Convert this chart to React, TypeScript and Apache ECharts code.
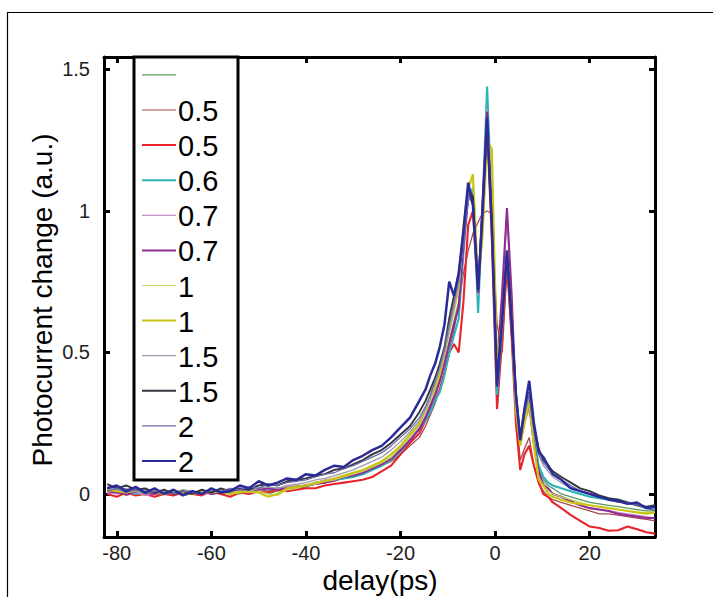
import React, { useEffect, useRef } from "react";
import * as echarts from "echarts";

// delay grid (ps)
const delays: number[] = [
  -82, -80, -78, -76, -74, -72, -70, -68, -66, -64,
  -62, -60, -58, -56, -54, -52, -50, -48, -46, -44,
  -42, -40, -38, -36, -34, -32, -30, -28, -26, -24,
  -22, -20, -18, -16,
  -14.7, -13.7, -12.7, -11.7, -10.7, -9.7, -8.7, -7.7, -6.7, -5.7,
  -4.7, -3.6, -2.7, -1.7, -0.7, 0.4, 1.5, 2.5, 3.5, 4.4,
  5.3, 6.2, 7.2, 8.2, 9.2, 10.2, 11.2, 12.2,
  14, 16, 18, 20, 22, 24, 26, 28, 30, 32, 33.8,
];

const legendLabels: string[] = ["", "0.5", "0.5", "0.6", "0.7", "0.7", "1", "1", "1.5", "1.5", "2", "2"];
const xTicks: number[] = [-80, -60, -40, -20, 0, 20];
const yTicks: number[] = [0, 0.5, 1, 1.5];

const sGreen: number[] = [
  0.02, 0.01, 0.015, 0.005, 0.01, 0.0, 0.01, 0.005, 0.01, 0.005,
  0.01, 0.005, 0.0, 0.01, 0.005, 0.015, 0.01, 0.0, 0.01, 0.02,
  0.02, 0.025, 0.035, 0.04, 0.05, 0.055, 0.065, 0.075, 0.09, 0.105,
  0.125, 0.155, 0.19, 0.23,
  0.27, 0.31, 0.35, 0.4, 0.46, 0.54, 0.61, 0.68, 0.88, 1.04,
  1.04, 0.7, 0.98, 1.32, 0.97, 0.38, 0.62, 0.85, 0.6, 0.3,
  0.18, 0.26, 0.32, 0.19, 0.09, 0.05, 0.03, 0.02,
  0.0, -0.01, -0.02, -0.03, -0.035, -0.04, -0.045, -0.05, -0.055, -0.06, -0.06,
];
const sBrown05: number[] = [
  0.0, 0.01, -0.005, 0.005, 0.0, 0.01, 0.0, 0.005, -0.005, 0.0,
  0.01, 0.0, 0.005, 0.01, 0.0, 0.01, 0.015, 0.01, 0.02, 0.025,
  0.02, 0.03, 0.035, 0.04, 0.045, 0.055, 0.06, 0.07, 0.085, 0.1,
  0.115, 0.14, 0.17, 0.2,
  0.24, 0.28, 0.32, 0.37, 0.43, 0.5, 0.58, 0.67, 0.78, 0.86,
  0.92, 0.96, 0.99, 1.0, 0.99, 0.6, 0.5, 0.8, 0.55, 0.3,
  0.12, 0.16, 0.2, 0.1, 0.04, 0.01, -0.01, -0.02,
  -0.03, -0.04, -0.05, -0.06, -0.07, -0.07, -0.075, -0.08, -0.085, -0.09, -0.095,
];
const sRed05: number[] = [
  0.0, -0.01, 0.005, -0.005, 0.0, -0.01, 0.0, -0.005, 0.005, 0.0,
  -0.005, 0.01, 0.0, -0.01, 0.005, 0.0, 0.01, 0.005, 0.015, 0.01,
  0.015, 0.02, 0.02, 0.03, 0.035, 0.04, 0.045, 0.05, 0.06, 0.08,
  0.1, 0.14, 0.18, 0.215,
  0.26, 0.29, 0.33, 0.37, 0.43, 0.5, 0.53, 0.5, 0.68, 0.95,
  1.0, 0.7, 0.95, 1.3, 0.9, 0.3, 0.55, 0.82, 0.55, 0.25,
  0.085, 0.14, 0.17, 0.1, 0.04, 0.0, -0.01, -0.03,
  -0.05, -0.075, -0.095, -0.115, -0.12, -0.13, -0.128, -0.115, -0.125, -0.135, -0.14,
];
const sCyan06: number[] = [
  0.015, 0.005, 0.01, 0.0, 0.01, 0.005, 0.0, 0.01, 0.005, 0.0,
  0.01, 0.005, 0.015, 0.01, 0.005, 0.01, 0.02, 0.015, 0.02, 0.02,
  0.025, 0.03, 0.04, 0.045, 0.05, 0.055, 0.06, 0.07, 0.085, 0.1,
  0.12, 0.15, 0.19, 0.23,
  0.26, 0.29, 0.33, 0.36, 0.42, 0.5, 0.56, 0.62, 0.85, 1.05,
  1.08, 0.64, 1.0, 1.44, 1.0, 0.35, 0.6, 0.86, 0.6, 0.3,
  0.18, 0.27, 0.33, 0.2, 0.1, 0.06, 0.04, 0.03,
  0.02, 0.01, 0.0, -0.01, -0.015, -0.02, -0.02, -0.03, -0.04, -0.05, -0.055,
];
const sViolet07: number[] = [
  0.005, 0.0, 0.01, 0.005, -0.005, 0.0, 0.01, 0.0, 0.005, 0.01,
  0.0, 0.005, 0.01, 0.0, 0.01, 0.015, 0.01, 0.02, 0.015, 0.025,
  0.03, 0.03, 0.04, 0.05, 0.055, 0.06, 0.07, 0.08, 0.095, 0.11,
  0.13, 0.16, 0.2, 0.24,
  0.28, 0.32, 0.36, 0.41, 0.47, 0.54, 0.6, 0.66, 0.86, 1.04,
  1.05, 0.7, 1.0, 1.36, 0.98, 0.42, 0.7, 0.98, 0.68, 0.3,
  0.17, 0.25, 0.3, 0.17, 0.08, 0.04, 0.02, 0.0,
  -0.01, -0.03, -0.04, -0.05, -0.055, -0.06, -0.065, -0.07, -0.075, -0.08, -0.085,
];
const sPurple07: number[] = [
  0.01, 0.005, 0.0, 0.01, 0.005, 0.0, 0.005, 0.01, 0.0, 0.005,
  0.01, 0.0, 0.005, 0.015, 0.01, 0.005, 0.015, 0.02, 0.015, 0.02,
  0.025, 0.03, 0.035, 0.04, 0.05, 0.06, 0.065, 0.075, 0.09, 0.105,
  0.125, 0.155, 0.19, 0.23,
  0.27, 0.31, 0.35, 0.4, 0.46, 0.53, 0.6, 0.66, 0.88, 1.05,
  1.06, 0.71, 1.02, 1.35, 0.98, 0.44, 0.72, 1.01, 0.7, 0.32,
  0.18, 0.26, 0.32, 0.18, 0.08, 0.03, 0.02, 0.0,
  -0.01, -0.025, -0.04, -0.05, -0.055, -0.06, -0.07, -0.075, -0.08, -0.085, -0.085,
];
const sLime1: number[] = [
  0.01, 0.015, 0.005, 0.01, 0.0, 0.01, 0.005, 0.015, 0.005, 0.01,
  0.005, 0.015, 0.01, 0.005, 0.01, 0.005, 0.01, 0.0, -0.005, 0.015,
  0.02, 0.03, 0.035, 0.045, 0.05, 0.06, 0.07, 0.08, 0.095, 0.11,
  0.13, 0.165, 0.2, 0.245,
  0.29, 0.33, 0.37, 0.42, 0.49, 0.57, 0.64, 0.72, 0.92, 1.1,
  1.1, 0.73, 1.0, 1.3, 1.15, 0.42, 0.65, 0.85, 0.62, 0.3,
  0.17, 0.25, 0.32, 0.18, 0.06, 0.03, 0.01, 0.0,
  -0.01, -0.02, -0.03, -0.04, -0.045, -0.05, -0.055, -0.06, -0.065, -0.065, -0.06,
];
const sYellow1: number[] = [
  0.015, 0.01, 0.005, 0.015, 0.005, 0.01, 0.0, 0.01, 0.005, 0.0,
  0.01, 0.005, 0.01, 0.0, 0.005, 0.01, 0.005, -0.01, 0.0, 0.02,
  0.025, 0.03, 0.04, 0.045, 0.055, 0.065, 0.075, 0.085, 0.1, 0.115,
  0.14, 0.17, 0.21, 0.25,
  0.3, 0.34, 0.38, 0.43, 0.5, 0.58, 0.66, 0.74, 0.95, 1.08,
  1.13, 0.75, 0.9, 1.25, 1.22, 0.45, 0.62, 0.86, 0.62, 0.3,
  0.17, 0.25, 0.33, 0.17, 0.05, 0.03, 0.0, -0.01,
  -0.02, -0.03, -0.035, -0.04, -0.045, -0.05, -0.055, -0.06, -0.065, -0.07, -0.065,
];
const sGray15: number[] = [
  0.025, 0.015, 0.02, 0.01, 0.015, 0.005, 0.01, 0.005, 0.015, 0.01,
  0.005, 0.01, 0.015, 0.005, 0.02, 0.01, 0.02, 0.025, 0.02, 0.03,
  0.035, 0.04, 0.05, 0.055, 0.065, 0.075, 0.085, 0.1, 0.115, 0.13,
  0.155, 0.185, 0.22, 0.26,
  0.3, 0.34, 0.39, 0.44, 0.5, 0.58, 0.66, 0.74, 0.9, 1.05,
  1.04, 0.73, 0.98, 1.3, 0.96, 0.4, 0.62, 0.84, 0.6, 0.34,
  0.19, 0.28, 0.34, 0.22, 0.14, 0.1, 0.08, 0.06,
  0.04, 0.02, 0.01, 0.0, -0.01, -0.02, -0.025, -0.03, -0.04, -0.045, -0.05,
];
const sDark15: number[] = [
  0.035, 0.02, 0.03, 0.015, 0.02, 0.005, 0.015, 0.0, 0.01, 0.0,
  0.015, 0.005, 0.02, 0.01, 0.02, 0.015, 0.03, 0.035, 0.03, 0.045,
  0.05, 0.055, 0.065, 0.07, 0.085, 0.09, 0.105, 0.12, 0.14, 0.155,
  0.18, 0.21, 0.24, 0.29,
  0.33, 0.37, 0.41, 0.46, 0.52, 0.62, 0.7, 0.78, 0.92, 1.08,
  1.05, 0.72, 1.0, 1.3, 0.96, 0.4, 0.63, 0.85, 0.62, 0.36,
  0.2, 0.3, 0.36, 0.24, 0.16, 0.12, 0.1, 0.08,
  0.06, 0.04, 0.02, 0.01, -0.005, -0.015, -0.02, -0.03, -0.04, -0.045, -0.04,
];
const sSlate2: number[] = [
  0.01, 0.02, 0.005, 0.015, 0.0, 0.01, 0.005, 0.0, 0.01, 0.005,
  0.0, 0.015, 0.01, 0.02, 0.015, 0.025, 0.02, 0.035, 0.03, 0.04,
  0.045, 0.05, 0.06, 0.07, 0.075, 0.09, 0.1, 0.115, 0.13, 0.145,
  0.17, 0.2, 0.23, 0.27,
  0.31, 0.35, 0.4, 0.45, 0.52, 0.6, 0.68, 0.76, 0.88, 1.06,
  1.02, 0.74, 0.98, 1.3, 0.94, 0.4, 0.62, 0.84, 0.6, 0.34,
  0.19, 0.28, 0.36, 0.22, 0.14, 0.11, 0.09, 0.07,
  0.05, 0.03, 0.01, 0.0, -0.01, -0.02, -0.03, -0.03, -0.04, -0.05, -0.06,
];
const sBlue2: number[] = [
  0.02, 0.03, 0.01, 0.025, 0.005, 0.02, 0.0, 0.015, -0.005, 0.01,
  0.0, 0.02, 0.005, 0.01, 0.03, 0.02, 0.045, 0.03, 0.04, 0.055,
  0.05, 0.07, 0.065, 0.085, 0.1, 0.095, 0.12, 0.135, 0.155, 0.17,
  0.2, 0.235, 0.27, 0.33,
  0.37, 0.42, 0.46, 0.52, 0.6, 0.75, 0.7, 0.78, 0.93, 1.1,
  1.02, 0.72, 0.98, 1.33, 0.95, 0.38, 0.62, 0.86, 0.6, 0.35,
  0.19, 0.3, 0.4, 0.25, 0.15, 0.13, 0.1, 0.07,
  0.05, 0.02, 0.01, 0.0, -0.01, -0.02, -0.025, -0.035, -0.03, -0.05, -0.045,
];

const seriesValues: number[][] = [
  sGreen, sBrown05, sRed05, sCyan06, sViolet07, sPurple07,
  sLime1, sYellow1, sGray15, sDark15, sSlate2, sBlue2,
];
const seriesColors: string[] = [
  "#5a9a5a", "#a84850", "#e8242a", "#2ab4b8", "#c890cc", "#902a94",
  "#c4d468", "#c8c410", "#9c9cac", "#34343e", "#6a6aaa", "#2a2a9a",
];
const seriesWidths: number[] = [1.3, 1.3, 2.1, 2.1, 1.3, 2.1, 1.3, 2.1, 1.3, 1.9, 1.3, 2.5];

const FONT = "'Liberation Sans', Arial, sans-serif";

export default function App() {
  const ref = useRef<HTMLDivElement>(null);
  useEffect(() => {
    if (!ref.current) return;
    const chart = echarts.init(ref.current, null, { renderer: "svg" });
    const gl = { left: 104, top: 57, width: 551, height: 480 };
    const axisLineStyle = { color: "#000", width: 3 };
    const tickStyle = { color: "#000", width: 3 };
    const series: any[] = seriesValues.map((vals, i) => ({
      type: "line",
      name: "s" + i,
      data: delays.map((d, j) => [d, vals[j]]),
      showSymbol: false,
      symbol: "none",
      clip: true,
      lineStyle: { color: seriesColors[i], width: seriesWidths[i] },
      z: 2 + i,
    }));
    const legendRows: any[] = [];
    legendLabels.forEach((lab, i) => {
      const y = 74.9 + 35.1 * i;
      legendRows.push({
        type: "line",
        shape: { x1: 142, y1: y, x2: 176, y2: y },
        style: { stroke: seriesColors[i], lineWidth: seriesWidths[i] > 1.5 ? 2 : 1.2 },
        z: 101,
      });
      if (lab) {
        legendRows.push({
          type: "text",
          x: 178,
          y: y + 1,
          style: {
            text: lab,
            fill: "#000",
            font: `29px ${FONT}`,
            textAlign: "left",
            textVerticalAlign: "middle",
          },
          z: 101,
        });
      }
    });
    chart.setOption({
      animation: false,
      backgroundColor: "#fff",
      grid: { ...gl, show: false, containLabel: false },
      xAxis: [
        {
          type: "value",
          position: "bottom",
          min: -82.7,
          max: 33.8,
          axisLine: { show: true, onZero: false, lineStyle: axisLineStyle },
          axisTick: { show: true, inside: true, length: 6, lineStyle: tickStyle, customValues: xTicks },
          axisLabel: { show: true, customValues: xTicks, fontSize: 20, color: "#222", fontFamily: FONT, margin: 6 },
          splitLine: { show: false },
        },
        {
          type: "value",
          position: "top",
          min: -82.7,
          max: 33.8,
          axisLine: { show: true, onZero: false, lineStyle: axisLineStyle },
          axisTick: { show: true, inside: true, length: 6, lineStyle: tickStyle, customValues: xTicks },
          axisLabel: { show: false },
          splitLine: { show: false },
        },
      ],
      yAxis: [
        {
          type: "value",
          position: "left",
          min: -0.152,
          max: 1.544,
          axisLine: { show: true, onZero: false, lineStyle: axisLineStyle },
          axisTick: { show: true, inside: true, length: 6, lineStyle: tickStyle, customValues: yTicks },
          axisLabel: { show: true, customValues: yTicks, fontSize: 20, color: "#222", fontFamily: FONT, margin: 14 },
          splitLine: { show: false },
        },
        {
          type: "value",
          position: "right",
          min: -0.152,
          max: 1.544,
          axisLine: { show: true, onZero: false, lineStyle: axisLineStyle },
          axisTick: { show: true, inside: true, length: 6, lineStyle: tickStyle, customValues: yTicks },
          axisLabel: { show: false },
          splitLine: { show: false },
        },
      ],
      series,
      graphic: [
        {
          type: "rect",
          shape: { x: 7.5, y: 12.5, width: 760, height: 640 },
          style: { fill: "none", stroke: "#000", lineWidth: 1.2 },
          z: 0,
        },
        {
          type: "rect",
          shape: { x: 134, y: 57, width: 104, height: 423 },
          style: { fill: "#fff", stroke: "#000", lineWidth: 3 },
          z: 100,
        },
        ...legendRows,
        {
          type: "text",
          x: 42,
          y: 300,
          rotation: Math.PI / 2,
          style: {
            text: "Photocurrent change (a.u.)",
            fill: "#000",
            font: `28px ${FONT}`,
            textAlign: "center",
            textVerticalAlign: "middle",
          },
        },
        {
          type: "text",
          x: 380,
          y: 580,
          style: {
            text: "delay(ps)",
            fill: "#000",
            font: `28px ${FONT}`,
            textAlign: "center",
            textVerticalAlign: "middle",
          },
        },
      ],
    });
    return () => chart.dispose();
  }, []);
  return (
    <div
      ref={ref}
      style={{ position: "fixed", left: 0, top: 0, width: 713, height: 597, background: "#fff" }}
    />
  );
}
